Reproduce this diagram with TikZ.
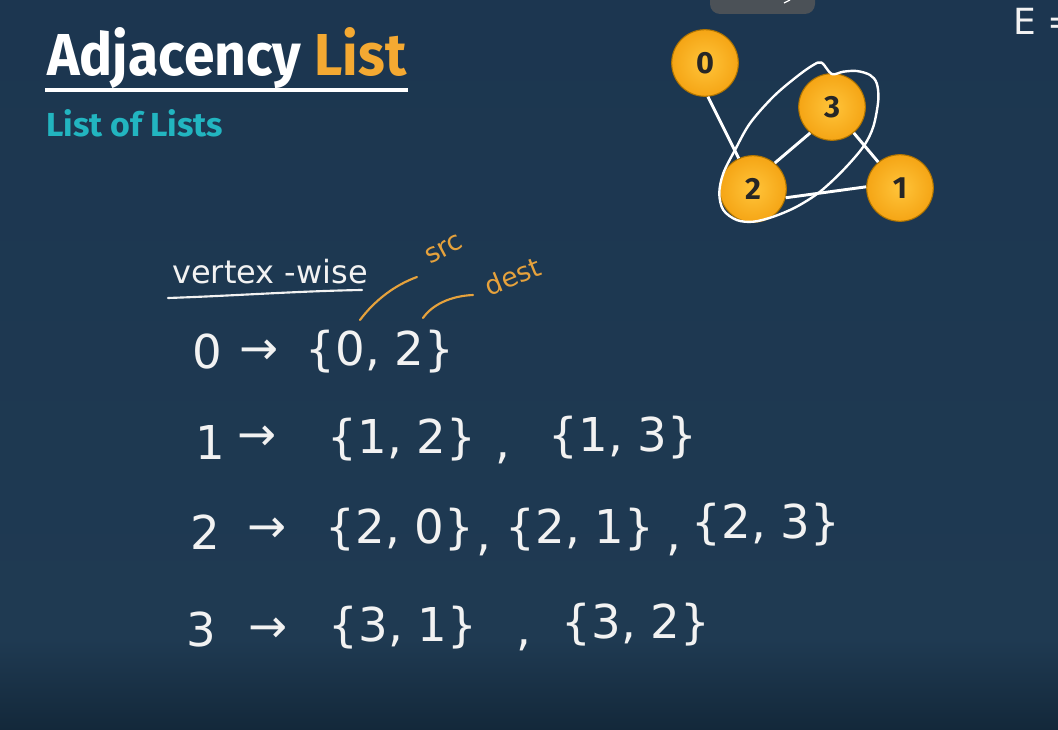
\documentclass[tikz,border=0pt]{standalone}
\usepackage{fontspec}
\usepackage{graphicx}
\setmainfont{DejaVu Sans}
\newfontfamily\titlefont{Fira Sans}
\newfontfamily\hand{DejaVu Sans}
\definecolor{bgtop}{HTML}{1C3650}
\definecolor{bgmid}{HTML}{1F3A52}
\definecolor{bgbot}{HTML}{13283A}
\definecolor{titleorange}{HTML}{F4A932}
\definecolor{subteal}{HTML}{22B5C0}
\definecolor{handwhite}{HTML}{F2F2F2}
\definecolor{handorange}{HTML}{E6A23C}
\definecolor{ballin}{HTML}{FFC43A}
\definecolor{ballout}{HTML}{F5A515}
\definecolor{ballrim}{HTML}{B07400}
\definecolor{uigray}{HTML}{4B5157}
\tikzset{
  vtx/.style={circle, minimum size=50pt, inner sep=0, draw=ballrim, line width=0.8pt,
    inner color=ballin, outer color=ballout, text=black!85,
    font=\titlefont\bfseries\fontsize{23}{24}\selectfont},
  edge/.style={draw=white, line width=2.2pt},
  hw/.style={font=\hand\fontsize{35}{38}\selectfont, text=handwhite, inner sep=0},
  hwo/.style={font=\hand\fontsize{20}{22}\selectfont, text=handorange, inner sep=0},
  orangestroke/.style={draw=handorange, line width=1.6pt, line cap=round},
  whitestroke/.style={draw=handwhite, line width=1.6pt, line cap=round}
}
\begin{document}
\begin{tikzpicture}[x=0.75pt,y=-0.75pt]
\useasboundingbox (0,0) rectangle (1058,730);
\clip (0,0) rectangle (1058,730);
\fill[top color=bgtop, bottom color=bgmid] (0,0) rectangle (1058,640);
\fill[top color=bgmid, bottom color=bgbot] (0,640) rectangle (1058,730);

% video UI element at the top
\fill[uigray, rounded corners=7.5pt] (710,-12) rectangle (815,14);
\coordinate (ui1) at (784,3);
\coordinate (ui2) at (790,0);
\draw[white, line width=1pt] (ui1) -- (ui2);

% title
\node[anchor=base west, inner sep=0] (title) at (47,76)
  {\resizebox{269.25pt}{36pt}{\titlefont\bfseries\color{white}Adjacency \color{titleorange}List}};
\coordinate (ul1) at (45,90.5);
\coordinate (ul2) at (408,90.5);
\draw[white, line width=3pt] (ul1) -- (ul2);
\node[anchor=base west, inner sep=0] (sub) at (46,137)
  {\resizebox{132.75pt}{20.25pt}{\titlefont\bfseries\color{subteal}List of Lists}};

% graph
\node[vtx] (v0) at (705,63) {0};
\node[vtx] (v3) at (832,107) {3};
\node[vtx] (v2) at (753,189) {2};
\node[vtx] (v1) at (900,188) {1};
\draw[edge] (v0.-85) -- (v2.115);
\draw[edge] (v2.50) -- (v3.230);
\draw[edge] (v3.-50) -- (v1.130);
\draw[edge] (v2.-15) -- (v1.178);
\draw[draw=white, line width=1.8pt] plot[smooth cycle, tension=0.55] coordinates {
 (831.7,74) (821.7,62.7) (813.3,65) (796.7,76.7) (773.3,96.7) (750,123.3)
 (735,150) (723.3,173.3) (719.3,193.3) (723.3,210) (736.7,220) (753.3,221.7)
 (773.3,216.7) (796.7,206.7) (820,191.7) (843.3,170) (863.3,146.7)
 (873.3,126.7) (878.3,100) (876.7,83.3) (870,75) (856.7,71) (843.3,71.7)};

% E =
\node[anchor=west, font=\hand\fontsize{27}{30}\selectfont, text=handwhite, inner sep=0] (eq) at (1013,21) {E =};

% vertex-wise heading
\node[anchor=base west, font=\hand\fontsize{24}{26}\selectfont, text=handwhite, inner sep=0] (vw) at (172,284) {vertex -wise};
\coordinate (vu1) at (168,298);
\coordinate (vu2) at (362,290);
\draw[whitestroke] (vu1) .. controls (230,296) and (300,291) .. (vu2);

% src / dest annotations
\node[hwo, rotate=28] (src) at (444,249) {src};
\node[hwo, rotate=22] (dest) at (513,276) {dest};
\coordinate (s1) at (360,320);
\coordinate (s2) at (417,277);
\draw[orangestroke] (s1) .. controls (375,300) and (395,285) .. (s2);
\coordinate (d1) at (423,318);
\coordinate (d2) at (473,295);
\draw[orangestroke] (d1) .. controls (432,305) and (450,296) .. (d2);

% row 0
\node[hw] (l0) at (207,352) {0};
\node[hw] (a0) at (259,352) {→};
\node[hw] (s00) at (380,352) {\{0, 2\}};

% row 1
\node[hw] (l1) at (210,442) {1};
\node[hw] (a1) at (257,438) {→};
\node[hw] (s10) at (402,440) {\{1, 2\}};
\node[hw] (c10) at (503,458) {,};
\node[hw] (s11) at (623,438) {\{1, 3\}};

% row 2
\node[hw] (l2) at (205,532) {2};
\node[hw] (a2) at (267,530) {→};
\node[hw] (s20) at (400,530) {\{2, 0\}};
\node[hw] (c20) at (484,550) {,};
\node[hw] (s21) at (580,530) {\{2, 1\}};
\node[hw] (c21) at (674,550) {,};
\node[hw] (s22) at (766,525) {\{2, 3\}};

% row 3
\node[hw] (l3) at (201,630) {3};
\node[hw] (a3) at (268,630) {→};
\node[hw] (s30) at (403,628) {\{3, 1\}};
\node[hw] (c30) at (524,645) {,};
\node[hw] (s31) at (636,625) {\{3, 2\}};
\end{tikzpicture}
\end{document}
